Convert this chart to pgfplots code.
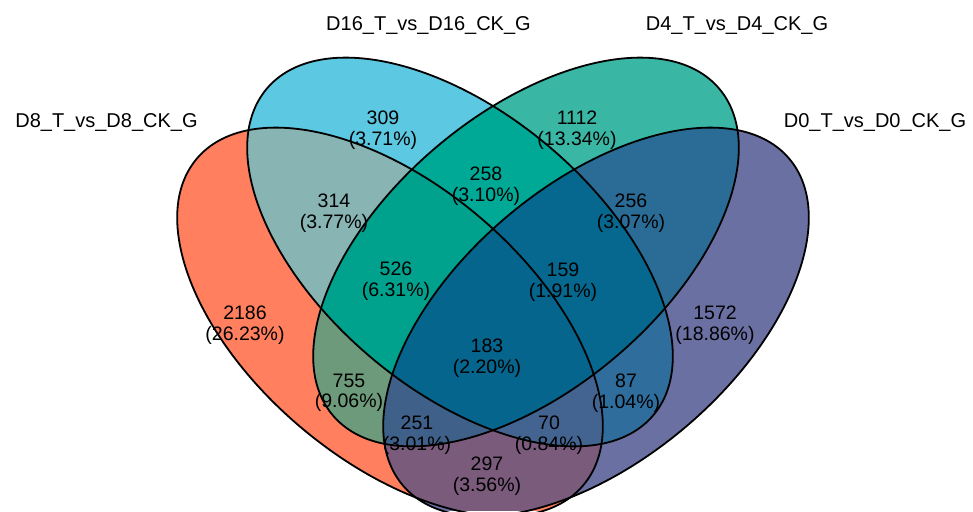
\documentclass[border=0pt]{standalone}
\usepackage{pgfplots}
\usepackage{pgfplotstable}
\pgfplotsset{compat=1.18}
\usepackage{fontspec}
\setmainfont{Liberation Sans}

% region colours
\definecolor{cR}{RGB}{255,127,95}     % D8 only
\definecolor{cB}{RGB}{92,200,225}     % D16 only
\definecolor{cG}{RGB}{58,182,164}     % D4 only
\definecolor{cP}{RGB}{107,112,162}    % D0 only
\definecolor{cRB}{RGB}{136,180,180}
\definecolor{cBG}{RGB}{0,168,150}
\definecolor{cGP}{RGB}{42,108,149}
\definecolor{cRG}{RGB}{108,154,122}
\definecolor{cBP}{RGB}{47,109,156}
\definecolor{cRP}{RGB}{122,91,124}
\definecolor{cRBG}{RGB}{0,162,142}
\definecolor{cBGP}{RGB}{6,104,143}
\definecolor{cRGP}{RGB}{63,96,136}
\definecolor{cRBP}{RGB}{67,100,145}
\definecolor{cAll}{RGB}{5,101,140}

% ellipse semi-axes
\newcommand\vA{253pt}
\newcommand\vB{138pt}
\newcommand\vclip[3]{\clip[rotate around={#3:(axis cs:#1,#2)}] (axis cs:#1,#2) ellipse [x radius=\vA, y radius=\vB];}
\newcommand\vdraw[3]{\draw[line width=1.8pt, rotate around={#3:(axis cs:#1,#2)}] (axis cs:#1,#2) ellipse [x radius=\vA, y radius=\vB];}
\newcommand\clipRed{\vclip{390}{189}{-40.2}}
\newcommand\clipBlue{\vclip{460}{259}{-40.2}}
\newcommand\clipGreen{\vclip{526}{259}{40.2}}
\newcommand\clipPurple{\vclip{596}{189}{40.2}}
\newcommand\region[2]{\begin{scope}#1\fill[#2] (axis cs:0,0) rectangle (axis cs:973,511);\end{scope}}

% region counts with their shares of the total
\pgfplotstableread{
x   y   label
245 186 2186\\(26.23\%)
383 381 309\\(3.71\%)
577 381 1112\\(13.34\%)
715 186 1572\\(18.86\%)
334 298 314\\(3.77\%)
486 325 258\\(3.10\%)
631 298 256\\(3.07\%)
396 230 526\\(6.31\%)
563 229 159\\(1.91\%)
487 153 183\\(2.20\%)
349 118 755\\(9.06\%)
626 118 87\\(1.04\%)
417 76  251\\(3.01\%)
549 76  70\\(0.84\%)
487 35  297\\(3.56\%)
}\regions

\begin{document}
\begin{tikzpicture}
\begin{axis}[
  x=1pt, y=1pt,
  xmin=0, xmax=973, ymin=0, ymax=511,
  hide axis, clip=true,
]
\coordinate (ll) at (axis cs:0,0);
\coordinate (ur) at (axis cs:973,511);

% single sets
\region{\clipRed}{cR}
\region{\clipBlue}{cB}
\region{\clipGreen}{cG}
\region{\clipPurple}{cP}
% pairs
\region{\clipRed\clipBlue}{cRB}
\region{\clipBlue\clipGreen}{cBG}
\region{\clipGreen\clipPurple}{cGP}
\region{\clipRed\clipGreen}{cRG}
\region{\clipBlue\clipPurple}{cBP}
\region{\clipRed\clipPurple}{cRP}
% triples
\region{\clipRed\clipBlue\clipGreen}{cRBG}
\region{\clipBlue\clipGreen\clipPurple}{cBGP}
\region{\clipRed\clipGreen\clipPurple}{cRGP}
\region{\clipRed\clipBlue\clipPurple}{cRBP}
% all four
\region{\clipRed\clipBlue\clipGreen\clipPurple}{cAll}

% outlines
\vdraw{390}{189}{-40.2}
\vdraw{460}{259}{-40.2}
\vdraw{526}{259}{40.2}
\vdraw{596}{189}{40.2}

% counts and shares
\addplot[only marks, mark=none,
  point meta=explicit symbolic,
  nodes near coords,
  every node near coord/.append style={anchor=center, align=center,
    inner sep=0pt, text=black, font=\fontsize{19.5}{20.5}\selectfont},
] table[x=x, y=y, meta=label] {\regions};

% set names
\begin{scope}[every node/.style={anchor=base, font=\fontsize{20}{24}\selectfont}]
\node at (axis cs:106.5,383) {D8\_T\_vs\_D8\_CK\_G};
\node at (axis cs:428.5,480) {D16\_T\_vs\_D16\_CK\_G};
\node at (axis cs:737,480) {D4\_T\_vs\_D4\_CK\_G};
\node at (axis cs:875,383) {D0\_T\_vs\_D0\_CK\_G};
\end{scope}
\end{axis}
\pgfresetboundingbox
\useasboundingbox (ll) rectangle (ur);
\end{tikzpicture}
\end{document}
